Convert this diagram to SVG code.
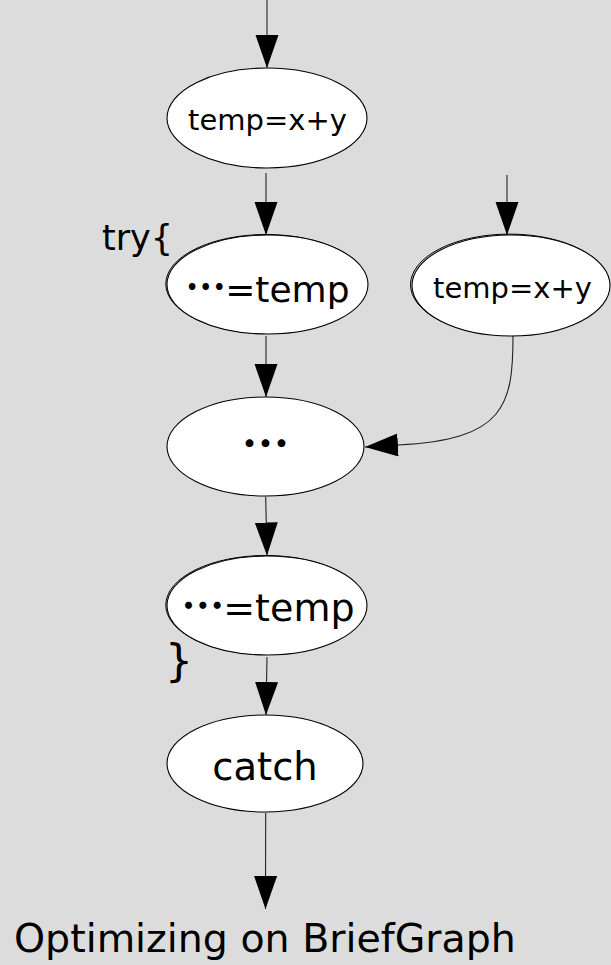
<svg xmlns="http://www.w3.org/2000/svg" width="611" height="965" viewBox="0 0 611 965">
  <style>
    .bg { fill: #dcdcdc; }
    .node { fill: #ffffff; stroke: #000000; stroke-width: 1.1; }
    .ghost { fill: none; stroke: #000000; stroke-width: 1; }
    .edge { fill: none; stroke: #222222; stroke-width: 1.1; marker-end: url(#head); }
    .lbl { font-family: "DejaVu Sans", "Noto Sans CJK JP", sans-serif; fill: #000000; }
    .dots { font-family: "Noto Sans CJK JP", "DejaVu Sans", sans-serif; font-weight: bold; }
  </style>
  <defs>
    <marker id="head" markerUnits="userSpaceOnUse" markerWidth="34" markerHeight="24" refX="33" refY="11.5" orient="auto">
      <path d="M0,0 L33,11.5 L0,23 Z" fill="#000000"/>
    </marker>
  </defs>

  <rect class="bg" x="0" y="0" width="611" height="965"/>

  <!-- connectors -->
  <g id="edges">
    <path class="edge" d="M267,0 L267,68"/>
    <path class="edge" d="M266,173 L266,235"/>
    <path class="edge" d="M266,336 L266,397"/>
    <path class="edge" d="M507,175 L507,235"/>
    <path class="edge" d="M513,336 C513,405 505,440 398,445 L365,447"/>
    <path class="edge" d="M265.7,497 L267,555.5"/>
    <path class="edge" d="M267,657 L266,715"/>
    <path class="edge" d="M265.7,813 L265.5,909"/>
  </g>

  <!-- nodes -->
  <g id="n-temp-top">
    <ellipse class="node" cx="267" cy="118" rx="100" ry="50"/>
    <text class="lbl" x="267.5" y="130" font-size="29" text-anchor="middle">temp=x+y</text>
  </g>

  <g id="n-use-1">
    <ellipse class="ghost" cx="266.3" cy="284" rx="100.5" ry="49.5"/>
    <ellipse class="node" cx="267.5" cy="284.5" rx="100.5" ry="49.5"/>
    <text class="lbl" x="267.5" y="302" font-size="36" text-anchor="middle"><tspan class="dots" dy="-12">…</tspan><tspan dy="12">=temp</tspan></text>
  </g>

  <g id="n-temp-side">
    <ellipse class="ghost" cx="509.5" cy="284.6" rx="99" ry="50.5"/>
    <ellipse class="node" cx="511" cy="285.5" rx="99" ry="50.5"/>
    <text class="lbl" x="512.5" y="298" font-size="29" text-anchor="middle">temp=x+y</text>
  </g>

  <g id="n-body">
    <ellipse class="node" cx="265.5" cy="446.5" rx="98.5" ry="49.5"/>
    <text class="lbl dots" x="265.5" y="461" font-size="48" text-anchor="middle">…</text>
  </g>

  <g id="n-use-2">
    <ellipse class="ghost" cx="265.8" cy="605" rx="100" ry="49.5"/>
    <ellipse class="node" cx="267" cy="605.5" rx="100" ry="49.5"/>
    <text class="lbl" x="268" y="621" font-size="38" text-anchor="middle"><tspan class="dots" dy="-12">…</tspan><tspan dy="12">=temp</tspan></text>
  </g>

  <g id="n-catch">
    <ellipse class="node" cx="265" cy="763.5" rx="98" ry="48.5"/>
    <text class="lbl" x="265" y="780" font-size="38.5" text-anchor="middle">catch</text>
  </g>

  <!-- block markers and caption -->
  <g id="labels">
    <text class="lbl" x="102" y="250" font-size="35">try{</text>
    <text class="lbl" x="165" y="676" font-size="44">}</text>
    <text class="lbl" x="14" y="952" font-size="39.5">Optimizing on BriefGraph</text>
  </g>
</svg>
